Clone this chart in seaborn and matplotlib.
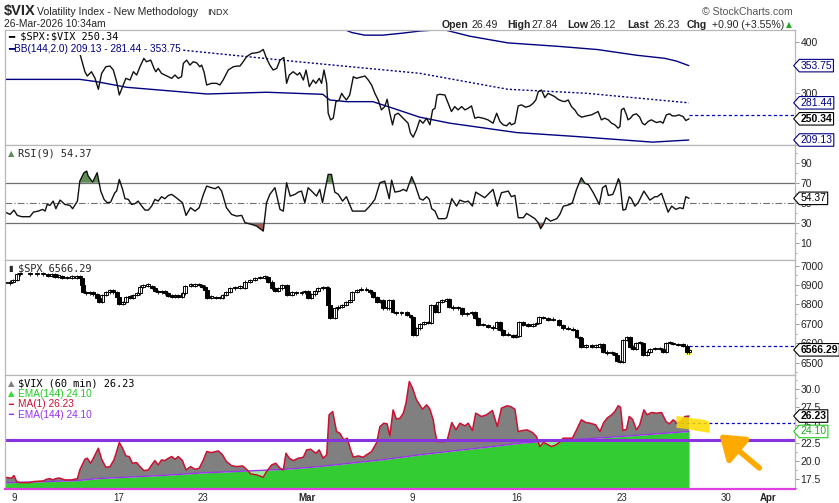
import numpy as np
import matplotlib
matplotlib.use("Agg")
import matplotlib.pyplot as plt
import seaborn as sns
from matplotlib.path import Path
from matplotlib.patches import Polygon, Rectangle
from matplotlib.ticker import AutoMinorLocator, FormatStrFormatter

sns.set_theme(style="white")
plt.rcParams['font.family'] = ['Liberation Sans', 'DejaVu Sans']

# x = hourly bar number, bar 0 = first bar of Feb 9 (7 bars per session)
tick_bars = [0, 35, 63, 98, 133, 168, 203, 238, 252]
tick_labels = ["9", "17", "23", "Mar", "9", "16", "23", "30", "Apr"]

# $SPX:$VIX ratio
ratio_pts = [
    (22.0, 377.5), (23.7, 341.9), (24.5, 333.5), (25.9, 341.9), (27.1, 329), (28.2, 307.7), (29.3, 338.7),
    (30.7, 351.6), (32.1, 352.9), (33.2, 345.2), (34.3, 322.6), (35.2, 296.7), (36.3, 312.9), (37.4, 329),
    (38.8, 325.8), (39.9, 341.9), (41.0, 335.5), (42.1, 351.6), (43.4, 367.8), (44.3, 361.3), (45.7, 364.5),
    (46.8, 348.4), (47.4, 341.9), (48.2, 348.4), (49.3, 338.7), (50.4, 335.5), (51.6, 332.2), (52.7, 329),
    (53.8, 335.5), (54.9, 329), (56.0, 332.2), (56.6, 358.1), (57.7, 364.5), (58.8, 354.8), (59.9, 361.3),
    (61.0, 359.4), (62.1, 351.6), (62.7, 354.8), (63.5, 341.9), (64.4, 316.1), (66.0, 319.3), (67.7, 319.3),
    (68.8, 316.1), (69.9, 325.8), (71.6, 345.2), (73.3, 351.6), (74.6, 352.9), (75.5, 352.9), (76.6, 361.3),
    (77.7, 371), (79.4, 377.5), (81.1, 378.8), (82.2, 380.7), (83.3, 385.2), (84.4, 367.8), (85.5, 354.8),
    (86.6, 345.2), (87.8, 348.4), (88.9, 364.5), (90.2, 369.7), (91.1, 319.3), (92.0, 335.5), (93.3, 341.9),
    (94.7, 335.5), (95.5, 340), (96.7, 325.8), (97.6, 345.2), (98.7, 312.9), (100.0, 325.8), (100.9, 319.3),
    (102.0, 329), (102.8, 319.3), (103.6, 345.2), (104.5, 319.3), (105.0, 261.2), (105.8, 248.3), (106.7, 251.5),
    (107.6, 283.8), (108.7, 287), (109.5, 299.9), (110.2, 293.5), (111.1, 287), (112.2, 296.7), (113.4, 332.2),
    (114.5, 329), (115.6, 331), (117.3, 333.5), (118.4, 325.8), (119.5, 316.1), (120.6, 299.9), (121.7, 287),
    (122.8, 267.7), (123.9, 274.1), (124.7, 288.3), (125.6, 261.2), (126.5, 238.6), (127.3, 258), (128.4, 261.2),
    (129.5, 254.7), (130.6, 248.3), (131.7, 241.8), (132.5, 222.4), (133.4, 214.7), (134.5, 228.9), (135.6, 248),
    (136.7, 241.8), (137.9, 251.5), (139.0, 238.6), (139.9, 267.7), (140.7, 270.9), (141.4, 296.7), (142.3, 298),
    (144.0, 296.7), (145.1, 280.6), (146.2, 264.5), (147.3, 274.1), (148.4, 267.7), (149.6, 274.1), (150.7, 267.7),
    (151.8, 270.9), (152.9, 275.4), (154.0, 251.5), (155.1, 253.5), (156.8, 251.5), (158.4, 248.3), (160.1, 241.8),
    (161.3, 261.2), (162.4, 245.1), (163.5, 238.6), (164.6, 236.7), (165.7, 243.1), (166.2, 238.6), (167.4, 241.8),
    (168.5, 275.4), (169.6, 277.4), (171.0, 272.9), (172.4, 275.4), (173.5, 280.6), (174.4, 287), (175.2, 303.2),
    (176.3, 306.4), (177.4, 291.6), (178.5, 299.9), (179.6, 296.7), (180.7, 293.5), (181.8, 288.3), (183.0, 285.1),
    (184.1, 283.8), (185.2, 287), (186.3, 274.1), (187.4, 267.7), (188.5, 258), (189.7, 253.5), (191.3, 256),
    (193.0, 258), (194.1, 261.2), (195.2, 264.5), (196.3, 248.3), (197.4, 251.5), (198.6, 248.3), (199.7, 241.8),
    (200.8, 238.6), (201.9, 232.2), (202.5, 235.4), (203.0, 267.7), (203.8, 270.9), (204.7, 258), (205.2, 248.3),
    (206.0, 251.5), (206.9, 258), (208.0, 260), (209.1, 253.5), (210.0, 241.8), (210.8, 238.6), (211.9, 245.1),
    (213.0, 248.3), (214.7, 243.1), (216.0, 245.1), (216.9, 241.8), (218.0, 258), (219.1, 260), (220.0, 256),
    (221.1, 256), (222.2, 258), (223.6, 254.7), (224.5, 247), (225.6, 250.3),
]
bb_upper_pts = [(109.9, 425), (113.0, 418), (117.2, 413), (123.2, 413), (130.0, 417), (135.6, 421), (143.4, 424),
                (152.3, 411), (165.0, 398), (182.4, 391), (195.0, 385), (208.0, 374), (217.4, 368), (221.4, 362.6),
                (225.5, 353.75)]
bb_mid_pts = [(53.8, 385.3), (78.0, 371.2), (95.5, 361), (135.6, 338.8), (165.0, 307.8), (191.3, 300),
              (225.5, 281.4)]
bb_lower_pts = [(-3.0, 327), (22.0, 327), (27.7, 322.5), (37.7, 311.6), (64.5, 298.6), (84.5, 302), (103.2, 298),
                (105.5, 287), (111.2, 283.7), (119.9, 283.7), (126.6, 271), (135.6, 253.5), (145.6, 241.9),
                (168.0, 223.6), (188.0, 215.9), (213.4, 205), (225.5, 209.1)]
ratio_prev_close = 258

# RSI(9)
rsi_pts = [
    (-3.0, 40.6), (-1.3, 38.3), (0.0, 42.6), (1.1, 37.3), (2.6, 36), (5.3, 36), (6.5, 40.6), (8.1, 41.6),
    (9.6, 43.3), (10.4, 41.6), (11.1, 48.3), (12.0, 47.3), (13.1, 51.6), (14.0, 44), (15.4, 52.6), (17.0, 48.3),
    (18.7, 47.3), (19.6, 44), (21.2, 51.6), (22.0, 71.6), (23.4, 80), (24.3, 81.6), (24.8, 76.6), (26.3, 70.6),
    (27.8, 80), (29.0, 61.6), (30.1, 53.3), (31.2, 50), (32.3, 50.6), (33.7, 60), (34.3, 61.6), (35.2, 73.3),
    (36.3, 63.3), (37.1, 54), (38.2, 53.3), (39.3, 48.3), (40.4, 49), (41.5, 51.6), (42.7, 46.6), (43.8, 42.6),
    (44.9, 42.6), (46.0, 46.6), (47.1, 53.3), (48.2, 51.6), (49.3, 56), (50.4, 54), (51.6, 57.3), (52.7, 58.3),
    (53.8, 56), (54.9, 53.3), (56.3, 50), (57.5, 37.3), (59.0, 45), (60.5, 41.6), (61.9, 45), (63.3, 58.3),
    (64.4, 66.6), (66.0, 65), (67.2, 64), (68.3, 66), (69.4, 61.6), (71.0, 45), (72.7, 38.3), (74.4, 36.6),
    (76.1, 37.3), (77.2, 30), (79.4, 28.3), (81.1, 26.6), (83.3, 21.6), (84.4, 50), (85.5, 58.3), (87.2, 65),
    (88.9, 43.3), (90.0, 41.6), (91.1, 70), (92.3, 56.6), (93.9, 58.3), (95.0, 60.6), (96.1, 61.6), (97.2, 50),
    (98.3, 65), (100.0, 60), (101.1, 56.6), (102.2, 63.3), (103.1, 50), (105.0, 78.3), (106.1, 78.3),
    (107.2, 60.6), (108.4, 58.3), (109.8, 51.6), (111.1, 56), (113.1, 41.6), (115.6, 41.6), (117.3, 41.6),
    (118.9, 46.6), (120.6, 53.3), (122.3, 70), (123.9, 71.6), (125.4, 54), (126.2, 72.6), (127.3, 60.6),
    (129.0, 61.6), (130.1, 63.3), (131.2, 61.6), (132.9, 76), (134.0, 68.3), (135.6, 54), (136.7, 52.6),
    (137.9, 56), (138.8, 53.3), (139.6, 44), (140.7, 41.6), (141.8, 34), (144.0, 34), (144.6, 35), (146.3, 54),
    (147.9, 46.6), (149.0, 52.6), (150.7, 50.6), (151.8, 51.6), (153.2, 46.6), (154.3, 60.6), (157.3, 55),
    (160.1, 63.3), (161.5, 46.6), (162.9, 60), (165.2, 61.6), (166.2, 56), (167.4, 57.3), (168.5, 35),
    (170.2, 35), (171.3, 39.3), (174.1, 34), (175.2, 30), (176.0, 24), (176.9, 28.3), (177.8, 35), (179.3, 31.6),
    (181.4, 34), (182.4, 38.3), (183.6, 46.6), (184.7, 47.3), (185.8, 48.3), (186.6, 50), (188.0, 63.3),
    (189.6, 75), (190.8, 69.3), (191.9, 68.3), (193.6, 60), (195.6, 48.3), (196.7, 65), (197.8, 67.3),
    (198.6, 57.3), (200.1, 58.3), (200.8, 63.3), (202.0, 74), (202.5, 70.6), (203.5, 42.6), (204.4, 43.3),
    (205.6, 56), (206.3, 54), (207.5, 46.6), (208.6, 50), (210.5, 61.6), (212.5, 52.6), (214.2, 56), (215.0, 56),
    (216.4, 59.3), (217.5, 50), (218.6, 40.6), (219.8, 46.6), (221.2, 43.3), (222.5, 45), (223.6, 44),
    (224.5, 56), (225.6, 54.4),
]

# $SPX hourly closes
spx_pts = [
    (-3.0, 6909), (-1.3, 6918), (-0.2, 6926), (1.0, 6955), (2.0, 6959), (5.3, 6955), (7.6, 6955), (9.8, 6955),
    (11.5, 6948), (12.6, 6955), (13.7, 6943), (14.8, 6948), (15.9, 6935), (17.6, 6938), (19.3, 6938),
    (20.9, 6943), (22.0, 6938), (22.6, 6900), (23.2, 6866), (24.1, 6857), (25.4, 6862), (26.5, 6852),
    (27.6, 6832), (28.5, 6814), (29.3, 6849), (30.7, 6862), (32.1, 6875), (33.2, 6862), (34.3, 6840),
    (35.2, 6801), (36.3, 6814), (37.4, 6840), (38.8, 6835), (39.9, 6849), (41.0, 6857), (42.1, 6892),
    (43.2, 6897), (44.9, 6897), (46.0, 6887), (47.1, 6870), (48.2, 6862), (49.3, 6870), (50.4, 6857),
    (51.6, 6845), (52.7, 6840), (53.8, 6849), (54.9, 6840), (56.3, 6857), (57.1, 6897), (59.0, 6897),
    (60.5, 6900), (61.9, 6900), (62.7, 6892), (63.8, 6875), (64.6, 6835), (66.0, 6840), (67.5, 6832),
    (68.8, 6835), (69.7, 6849), (71.0, 6866), (72.2, 6883), (73.8, 6887), (75.5, 6887), (77.2, 6918),
    (78.8, 6926), (80.5, 6935), (82.2, 6938), (83.9, 6943), (85.0, 6918), (86.1, 6883), (87.2, 6870),
    (88.3, 6883), (89.5, 6900), (91.3, 6849), (92.8, 6862), (94.4, 6857), (96.1, 6862), (97.2, 6870),
    (98.3, 6832), (99.4, 6852), (100.5, 6870), (101.7, 6883), (103.3, 6883), (104.5, 6887), (105.0, 6797),
    (105.6, 6732), (107.2, 6780), (108.4, 6789), (109.5, 6797), (111.1, 6814), (112.2, 6823), (113.1, 6866),
    (114.5, 6875), (116.1, 6875), (117.8, 6875), (118.9, 6862), (120.0, 6840), (121.2, 6814), (122.3, 6823),
    (123.4, 6780), (124.5, 6780), (125.4, 6823), (126.5, 6763), (127.8, 6754), (129.5, 6760), (131.2, 6746),
    (132.5, 6737), (133.4, 6643), (134.3, 6677), (135.6, 6700), (137.0, 6711), (138.4, 6703), (139.5, 6797),
    (140.7, 6763), (141.8, 6814), (142.9, 6818), (144.6, 6826), (145.4, 6789), (146.8, 6780), (148.5, 6780),
    (149.6, 6749), (151.3, 6754), (153.0, 6763), (154.1, 6729), (155.2, 6694), (156.8, 6694), (158.5, 6686),
    (160.2, 6677), (161.5, 6711), (162.4, 6669), (163.5, 6643), (165.2, 6643), (166.8, 6634), (167.9, 6639),
    (168.8, 6711), (170.2, 6694), (171.8, 6690), (173.5, 6697), (174.6, 6703), (175.5, 6737), (176.8, 6729),
    (178.5, 6720), (180.2, 6720), (182.2, 6694), (183.5, 6677), (185.2, 6674), (186.8, 6669), (188.0, 6634),
    (189.1, 6626), (189.6, 6583), (191.3, 6588), (193.0, 6583), (194.6, 6583), (195.8, 6595), (196.7, 6557),
    (198.1, 6548), (199.7, 6548), (200.8, 6540), (201.6, 6509), (202.4, 6502), (203.6, 6617), (204.7, 6634),
    (205.8, 6583), (206.9, 6571), (208.0, 6600), (209.1, 6600), (210.2, 6540), (211.4, 6557), (212.5, 6571),
    (214.2, 6569), (215.8, 6569), (216.9, 6557), (217.8, 6600), (219.2, 6600), (220.3, 6595), (222.0, 6591),
    (223.6, 6588), (224.8, 6553), (225.6, 6566),
]
spx_prev_close = 6588

# $VIX (60 min) and its EMA(144)
vix_pts = [
    (-3.0, 17.77), (-0.8, 17.63), (0.0, 18.0), (0.9, 17.17), (2.0, 17.03), (5.3, 17.03), (6.5, 17.17),
    (9.8, 17.26), (10.9, 17.49), (12.0, 17.58), (12.9, 17.4), (14.0, 17.58), (15.1, 17.67), (17.0, 17.4),
    (19.3, 17.4), (21.2, 17.58), (22.0, 18.78), (23.7, 20.26), (24.5, 20.4), (25.6, 19.7), (26.7, 20.54),
    (28.2, 21.78), (29.3, 20.26), (30.7, 19.15), (32.1, 19.24), (33.4, 20.17), (34.3, 21.32), (35.2, 22.57),
    (36.3, 21.78), (37.4, 20.72), (38.5, 20.63), (39.6, 19.7), (41.0, 19.8), (42.1, 19.24), (43.4, 18.69),
    (44.9, 18.78), (46.0, 19.47), (47.1, 20.07), (48.2, 19.47), (49.3, 20.17), (50.4, 20.07), (51.6, 20.4),
    (52.7, 20.63), (53.8, 20.26), (54.9, 20.63), (56.3, 20.07), (57.5, 18.78), (59.0, 19.24), (60.5, 18.87),
    (61.9, 19.01), (63.3, 20.17), (64.4, 21.32), (66.0, 21.18), (68.3, 21.41), (69.7, 20.86), (71.0, 19.94),
    (72.7, 19.38), (74.4, 19.24), (76.4, 19.33), (77.7, 18.87), (79.1, 18.23), (81.1, 18.09), (83.3, 17.77),
    (84.4, 18.55), (86.1, 19.47), (87.5, 19.7), (88.9, 19.01), (90.0, 18.78), (90.9, 21.09), (92.0, 20.4),
    (93.3, 20.07), (95.0, 20.4), (96.7, 20.54), (97.8, 21.55), (99.1, 21.64), (100.9, 21.09), (102.0, 21.55),
    (103.3, 20.4), (104.5, 20.86), (105.3, 26.4), (106.5, 26.86), (107.8, 24.09), (108.9, 23.86), (110.2, 22.94),
    (111.4, 23.17), (112.5, 21.55), (113.4, 20.54), (115.0, 20.72), (116.7, 20.54), (117.8, 20.86), (119.5, 21.32),
    (121.2, 22.57), (122.3, 24.78), (123.6, 25.24), (124.7, 25.15), (125.6, 23.49), (126.7, 27.09), (127.8, 25.8),
    (129.0, 25.94), (130.1, 26.63), (131.0, 28.01), (132.1, 31.0), (133.2, 30.09), (134.5, 28.48), (135.6, 27.78),
    (136.5, 27.18), (137.9, 27.78), (139.0, 27.18), (140.1, 25.71), (140.7, 24.09), (141.4, 22.71), (144.0, 22.71),
    (144.8, 22.94), (146.3, 25.34), (147.7, 24.32), (149.0, 25.24), (150.7, 24.88), (151.8, 25.24), (153.2, 24.23),
    (154.3, 26.63), (156.2, 26.17), (157.9, 26.4), (159.9, 27.0), (161.5, 24.78), (162.9, 27.32), (164.8, 27.65),
    (165.9, 27.55), (167.4, 27.18), (168.5, 24.09), (169.9, 24.23), (171.5, 24.32), (173.3, 23.95), (174.6, 23.4),
    (175.7, 22.01), (177.0, 22.57), (178.5, 22.24), (179.6, 22.01), (181.1, 22.24), (182.2, 22.57), (183.5, 23.17),
    (185.2, 23.17), (186.6, 23.17), (188.0, 24.32), (189.6, 25.71), (191.1, 25.34), (192.6, 25.24), (194.4, 25.01),
    (195.8, 24.09), (197.1, 25.34), (198.2, 25.94), (199.7, 26.4), (200.8, 26.86), (201.9, 27.65), (202.7, 27.46),
    (203.5, 24.23), (204.7, 24.41), (205.6, 26.17), (206.7, 25.8), (208.0, 24.32), (209.1, 25.01), (210.5, 27.09),
    (211.6, 26.4), (213.0, 26.72), (214.7, 26.63), (216.4, 26.72), (217.9, 25.48), (219.0, 25.15), (220.3, 25.71),
    (221.6, 25.24), (223.0, 25.48), (224.2, 26.17), (225.6, 26.23),
]
ema_pts = [(-3.0, 17.0), (20.9, 17.3), (28.7, 17.6), (46.5, 17.95), (51.0, 18.05), (62.1, 18.35), (78.8, 18.65),
           (90.0, 18.85), (101.1, 19.2), (112.2, 19.7), (123.4, 20.2), (135.6, 20.86), (146.8, 21.41),
           (158.0, 21.92), (169.1, 22.47), (180.0, 22.8), (191.0, 23.07), (202.5, 23.4), (213.4, 23.72),
           (225.6, 24.10)]
vix_prev_close = 25.33
vix_level_line = 22.98

W, H = 839, 503
fig = plt.figure(figsize=(W / 100, H / 100), dpi=100)
fig.patch.set_facecolor("white")


def pts(p):
    a = np.array(p, dtype=float)
    return a[:, 0], a[:, 1]


def panel(top, bottom):
    ax = fig.add_axes([5 / W, 1 - bottom / H, 790 / W, (bottom - top) / H])
    ax.set_facecolor("white")
    ax.set_xlim(-3.0, 261)
    for s in ax.spines.values():
        s.set_color("#b8b8b8")
        s.set_linewidth(0.9)
    ax.yaxis.tick_right()
    ax.yaxis.set_minor_locator(AutoMinorLocator(2))
    ax.tick_params(axis="y", which="major", direction="out", length=3, width=0.7, color="#999999",
                   labelsize=7.5, labelcolor="#222222", pad=1)
    ax.tick_params(axis="y", which="minor", direction="out", length=1.5, width=0.6, color="#999999")
    ax.set_xticks(tick_bars)
    ax.tick_params(axis="x", length=0, labelbottom=False)
    ax.set_xlabel("")
    ax.set_ylabel("")
    return ax


def tag_box(x0, y0, width, height, mutation_size):
    pad = 0.12 * mutation_size
    x0, y0 = x0 - pad, y0 - pad
    x1, y1 = x0 + width + 2 * pad, y0 + height + 2 * pad
    tip = (y1 - y0) * 0.45
    return Path([(x0, y0), (x1, y0), (x1, y1), (x0, y1), (x0 - tip, (y0 + y1) / 2), (x0, y0)], closed=True)


def value_tag(ax, v, text, color="black", ec="black", bold=False):
    ax.annotate(text, xy=(1.0, v), xycoords=("axes fraction", "data"), xytext=(4, 0),
                textcoords="offset points", ha="left", va="center", fontsize=7.5, color=color,
                fontweight="bold" if bold else "normal", annotation_clip=False, zorder=10,
                bbox=dict(boxstyle=tag_box, fc="white", ec=ec, lw=0.8))


def ftext(x, y, s, **kw):
    kw.setdefault("va", "center")
    kw.setdefault("ha", "left")
    fig.text(x / W, 1 - y / H, s, parse_math=False, **kw)


def atext(ax, x, y, s, **kw):
    ax.text(x, y, s, transform=ax.transAxes, va="center", parse_math=False, **kw)


# ---- panel 1: $SPX:$VIX with Bollinger Bands
ax1 = panel(29.5, 144.7)
ax1.set_ylim(200, 424)
ax1.set_yticks([300, 400])
for p, ls in [(bb_upper_pts, "-"), (bb_lower_pts, "-"), (bb_mid_pts, (0, (1.5, 1.5)))]:
    x, y = pts(p)
    sns.lineplot(x=x, y=y, ax=ax1, color="#000080", lw=1.0, ls=ls, sort=False, estimator=None)
x, y = pts(ratio_pts)
sns.lineplot(x=x, y=y, ax=ax1, color="#111111", lw=1.0, sort=False, estimator=None)
ax1.plot([x[-1], 261], [ratio_prev_close] * 2, color="#0000cc", lw=0.9, ls=(0, (2.5, 2)))
atext(ax1, 0.004, 0.935, "━ $SPX:$VIX 250.34", fontsize=7.4, family="DejaVu Sans Mono", color="black",
      bbox=dict(fc="white", ec="none", pad=0.6))
atext(ax1, 0.004, 0.83, "━BB(144,2.0) 209.13 - 281.44 - 353.75", fontsize=7.2, color="#000080",
      bbox=dict(fc="white", ec="none", pad=0.6))
value_tag(ax1, 353.75, "353.75", color="#000080", ec="#000080")
value_tag(ax1, 281.44, "281.44", color="#000080", ec="#000080")
value_tag(ax1, 250.34, "250.34", bold=True)
value_tag(ax1, 209.13, "209.13", color="#000080", ec="#000080")

# ---- panel 2: RSI(9)
ax2 = panel(144.7, 259.7)
ax2.set_ylim(-7, 108)
ax2.set_yticks([10, 30, 50, 70, 90])
ax2.yaxis.set_minor_locator(AutoMinorLocator(2))
ax2.axhline(70, color="#707070", lw=0.9)
ax2.axhline(30, color="#707070", lw=0.9)
ax2.axhline(50, color="#707070", lw=0.8, ls=(0, (6, 2, 1, 2)))
x, y = pts(rsi_pts)
ax2.fill_between(x, y, 70, where=y >= 70, interpolate=True, color="#5f8f55", lw=0)
ax2.fill_between(x, y, 30, where=y <= 30, interpolate=True, color="#a06058", lw=0)
sns.lineplot(x=x, y=y, ax=ax2, color="#111111", lw=1.0, sort=False, estimator=None)
atext(ax2, 0.004, 0.925, "▲", fontsize=6, family="DejaVu Sans", color="#5f8f55")
atext(ax2, 0.017, 0.925, "RSI(9) 54.37", fontsize=7.4, family="DejaVu Sans Mono")
value_tag(ax2, 54.37, "54.37")

# ---- panel 3: $SPX hourly candles
ax3 = panel(259.7, 374.7)
ax3.set_ylim(6438, 7031)
ax3.set_yticks([6500, 6600, 6700, 6800, 6900, 7000])
x, c = pts(spx_pts)
o = np.concatenate([[c[0]], c[:-1]])
lo = np.minimum(o, c)
hgt = np.maximum(np.abs(c - o), 7)
up = c >= o
ax3.vlines(x, lo - 6, lo + hgt + 6, color="black", lw=0.6)
ax3.bar(x[up], hgt[up], bottom=lo[up], width=1.3, color="white", edgecolor="black", lw=0.7)
ax3.bar(x[~up], hgt[~up], bottom=lo[~up], width=1.3, color="black", edgecolor="black", lw=0.7)
ax3.add_patch(Rectangle((224.6, 6545), 1.8, 24, color="#ffff44", alpha=0.8, zorder=0))
ax3.plot([x[-1], 261], [spx_prev_close] * 2, color="#0000cc", lw=0.9, ls=(0, (2.5, 2)))
atext(ax3, 0.004, 0.925, "▮", fontsize=6, family="DejaVu Sans")
atext(ax3, 0.017, 0.925, "$SPX 6566.29", fontsize=7.4, family="DejaVu Sans Mono")
value_tag(ax3, 6566.29, "6566.29", bold=True)

# ---- panel 4: $VIX area with EMA(144)
ax4 = panel(374.7, 489.3)
ax4.set_ylim(16.1, 31.95)
ax4.set_yticks([17.5, 20.0, 22.5, 25.0, 27.5, 30.0])
ax4.yaxis.set_major_formatter(FormatStrFormatter("%.1f"))
ax4.yaxis.set_minor_locator(AutoMinorLocator(2))
vx, vv = pts(vix_pts)
ex, ev = pts(ema_pts)
ema_on_vix = np.interp(vx, ex, ev)
ax4.fill_between(vx, 16.1, ema_on_vix, color="#33cc33", lw=0)
ax4.fill_between(vx, ema_on_vix, vv, where=vv >= ema_on_vix, interpolate=True, color="#808080", lw=0)
ax4.fill_between(vx, vv, ema_on_vix, where=vv < ema_on_vix, interpolate=True, color="#99ee99", lw=0)
sns.lineplot(x=ex, y=ev, ax=ax4, color="#9933ee", lw=1.0, sort=False, estimator=None)
sns.lineplot(x=vx, y=vv, ax=ax4, color="#cc1133", lw=1.1, sort=False, estimator=None)
ax4.axhline(vix_level_line, color="#8833dd", lw=2.2)
ax4.plot([221.0, 261], [vix_prev_close] * 2, color="#0000cc", lw=0.9, ls=(0, (2.5, 2)))
ax4.spines["bottom"].set_color("#e040e0")
ax4.spines["bottom"].set_linewidth(1.6)

legend4 = [("▲", "#808080", "$VIX (60 min) 26.23", "black", "DejaVu Sans Mono", 7.4),
           ("▲", "#33dd33", "EMA(144) 24.10", "#22cc22", "Liberation Sans", 7.3),
           ("━", "#cc1133", "MA(1) 26.23", "#cc1133", "Liberation Sans", 7.3),
           ("━", "#9933ee", "EMA(144) 24.10", "#9933ee", "Liberation Sans", 7.3)]
for i, (icon, icol, txt, tcol, fam, fs) in enumerate(legend4):
    yy = 0.925 - i * 0.092
    atext(ax4, 0.004, yy, icon, fontsize=6, family="DejaVu Sans", color=icol)
    atext(ax4, 0.016, yy, txt, fontsize=fs, family=fam, color=tcol)
value_tag(ax4, 26.23, "26.23", bold=True)
value_tag(ax4, 24.10, "24.10", color="#22aa22", ec="#22cc22")

# hand-drawn highlight and arrow
ax4.add_patch(Polygon([(221.4, 26.26), (225.8, 25.98), (230.8, 25.7), (232.5, 25.43), (232.5, 23.9),
                       (228.0, 24.18), (225.8, 24.4), (221.4, 24.6)], closed=True,
                      color="#ffdd00", alpha=0.85, lw=0, zorder=5))
ax4.annotate("", xy=(235.0, 23.95), xytext=(249.8, 18.8),
             arrowprops=dict(arrowstyle="-|>,head_width=0.7,head_length=1.0", mutation_scale=14,
                             lw=4, color="#ffaa00"), zorder=6)

ax4.tick_params(axis="x", length=2, width=0.7, color="#999999", direction="out", labelbottom=True,
                labelsize=7, pad=0.5)
ax4.set_xticklabels(tick_labels)
for lab in ax4.get_xticklabels():
    if lab.get_text() in ("Mar", "Apr"):
        lab.set_fontweight("bold")

# ---- header
ftext(4, 11, "$VIX", fontsize=10.5, fontweight="bold")
ftext(37, 12, "Volatility Index - New Methodology", fontsize=7.6)
ftext(207, 12.5, "INDX", fontsize=6.5)
ftext(4, 24, "26-Mar-2026 10:34am", fontsize=7.4)
ftext(793, 12, "© StockCharts.com", fontsize=7.6, ha="right", color="#555555")
header = [(442, "Open", True), (472, "26.49", False), (507, "High", True), (532, "27.84", False),
          (567, "Low", True), (590, "26.12", False), (627, "Last", True), (653, "26.23", False),
          (687, "Chg", True), (712, "+0.90 (+3.55%)", False)]
for xp, s, b in header:
    ftext(xp, 24.5, s, fontsize=7.6, fontweight="bold" if b else "normal")
ftext(786, 24.5, "▲", fontsize=5.5, color="#22aa22", family="DejaVu Sans")

fig.savefig("out.png", dpi=100, facecolor="white")
